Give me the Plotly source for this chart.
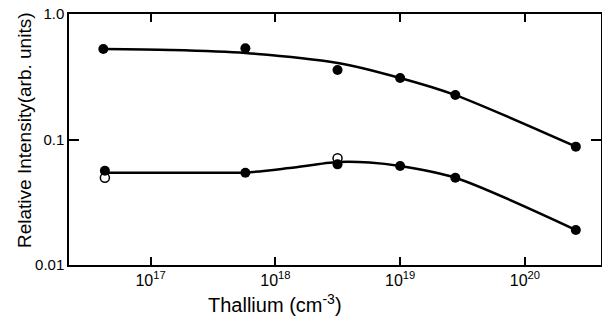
import plotly.graph_objects as go

# Measured points (Thallium concentration, cm^-3) and relative intensities
upper_x = [4.18e16, 5.75e17, 3.15e18, 1.0e19, 2.77e19, 2.56e20]
upper_y = [0.526, 0.533, 0.358, 0.309, 0.226, 0.0877]

lower_x = [4.3e16, 5.75e17, 3.15e18, 1.0e19, 2.77e19, 2.56e20]
lower_y = [0.0564, 0.0544, 0.0634, 0.0615, 0.0496, 0.019]

open_x = [4.3e16, 3.15e18]
open_y = [0.0496, 0.0708]

# Hand-drawn smooth curves
upper_curve_x = [4.18e16, 1.43e17, 5.75e17, 3.16e18, 1.0e19, 2.77e19, 2.57e20]
upper_curve_y = [0.526, 0.517, 0.489, 0.407, 0.309, 0.226, 0.0877]

lower_curve_x = [4.3e16, 1.71e17, 5.78e17, 1.30e18, 3.15e18, 5.68e18, 1.0e19, 2.77e19, 2.57e20]
lower_curve_y = [0.0544, 0.0544, 0.0546, 0.0593, 0.0662, 0.0656, 0.0615, 0.0496, 0.019]

x_tickvals = [1e17, 1e18, 1e19, 1e20]
x_ticktext = ["10<sup>17</sup>", "10<sup>18</sup>", "10<sup>19</sup>", "10<sup>20</sup>"]
y_tickvals = [0.01, 0.1, 1.0]
y_ticktext = ["0.01", "0.1", "1.0"]

FONT = "Liberation Sans, Arial, sans-serif"

fig = go.Figure()
fig.add_trace(go.Scatter(x=upper_curve_x, y=upper_curve_y, mode="lines",
                         line=dict(color="black", width=2.5, shape="spline", smoothing=0.8),
                         hoverinfo="skip"))
fig.add_trace(go.Scatter(x=lower_curve_x, y=lower_curve_y, mode="lines",
                         line=dict(color="black", width=2.5, shape="spline", smoothing=0.8),
                         hoverinfo="skip"))
fig.add_trace(go.Scatter(x=open_x, y=open_y, mode="markers",
                         marker=dict(symbol="circle", size=9, color="white",
                                     line=dict(color="black", width=1.5))))
fig.add_trace(go.Scatter(x=upper_x, y=upper_y, mode="markers",
                         marker=dict(symbol="circle", size=10, color="black")))
fig.add_trace(go.Scatter(x=lower_x, y=lower_y, mode="markers",
                         marker=dict(symbol="circle", size=10, color="black")))

fig.update_layout(
    width=602, height=321,
    margin=dict(l=69, r=1, t=14, b=56, autoexpand=False),
    paper_bgcolor="white", plot_bgcolor="white",
    showlegend=False,
    font=dict(family=FONT, size=15, color="black"),
)
fig.update_xaxes(type="log", range=[16.346, 20.61], automargin=False,
                 tickvals=x_tickvals, ticktext=x_ticktext,
                 ticks="inside", ticklen=8, tickwidth=1.5, tickcolor="black",
                 showline=True, linecolor="black", linewidth=1.5, mirror="ticks",
                 showgrid=False, zeroline=False,
                 tickfont=dict(family=FONT, size=16, color="black"))
fig.update_yaxes(type="log", range=[-2, 0], automargin=False,
                 tickvals=y_tickvals, ticktext=y_ticktext,
                 ticks="inside", ticklen=10, tickwidth=1.5, tickcolor="black",
                 showline=True, linecolor="black", linewidth=1.5, mirror="ticks",
                 showgrid=False, zeroline=False,
                 tickfont=dict(family=FONT, size=15, color="black"))

fig.add_annotation(text="Thallium (cm<sup>-3</sup>)", xref="paper", yref="paper",
                   x=(275 - 69) / 532, y=-(303 - 265) / 251, showarrow=False,
                   font=dict(family=FONT, size=20, color="black"),
                   xanchor="center", yanchor="middle")
fig.add_annotation(text="Relative Intensity(arb. units)", xref="paper", yref="paper",
                   x=-(69 - 24) / 532, y=(265 - 130) / 251, showarrow=False, textangle=-90,
                   font=dict(family=FONT, size=19, color="black"),
                   xanchor="center", yanchor="middle")

fig.write_html("out.html", config={"displayModeBar": False},
               post_script="document.body.style.margin='0';document.body.style.overflow='hidden';")
